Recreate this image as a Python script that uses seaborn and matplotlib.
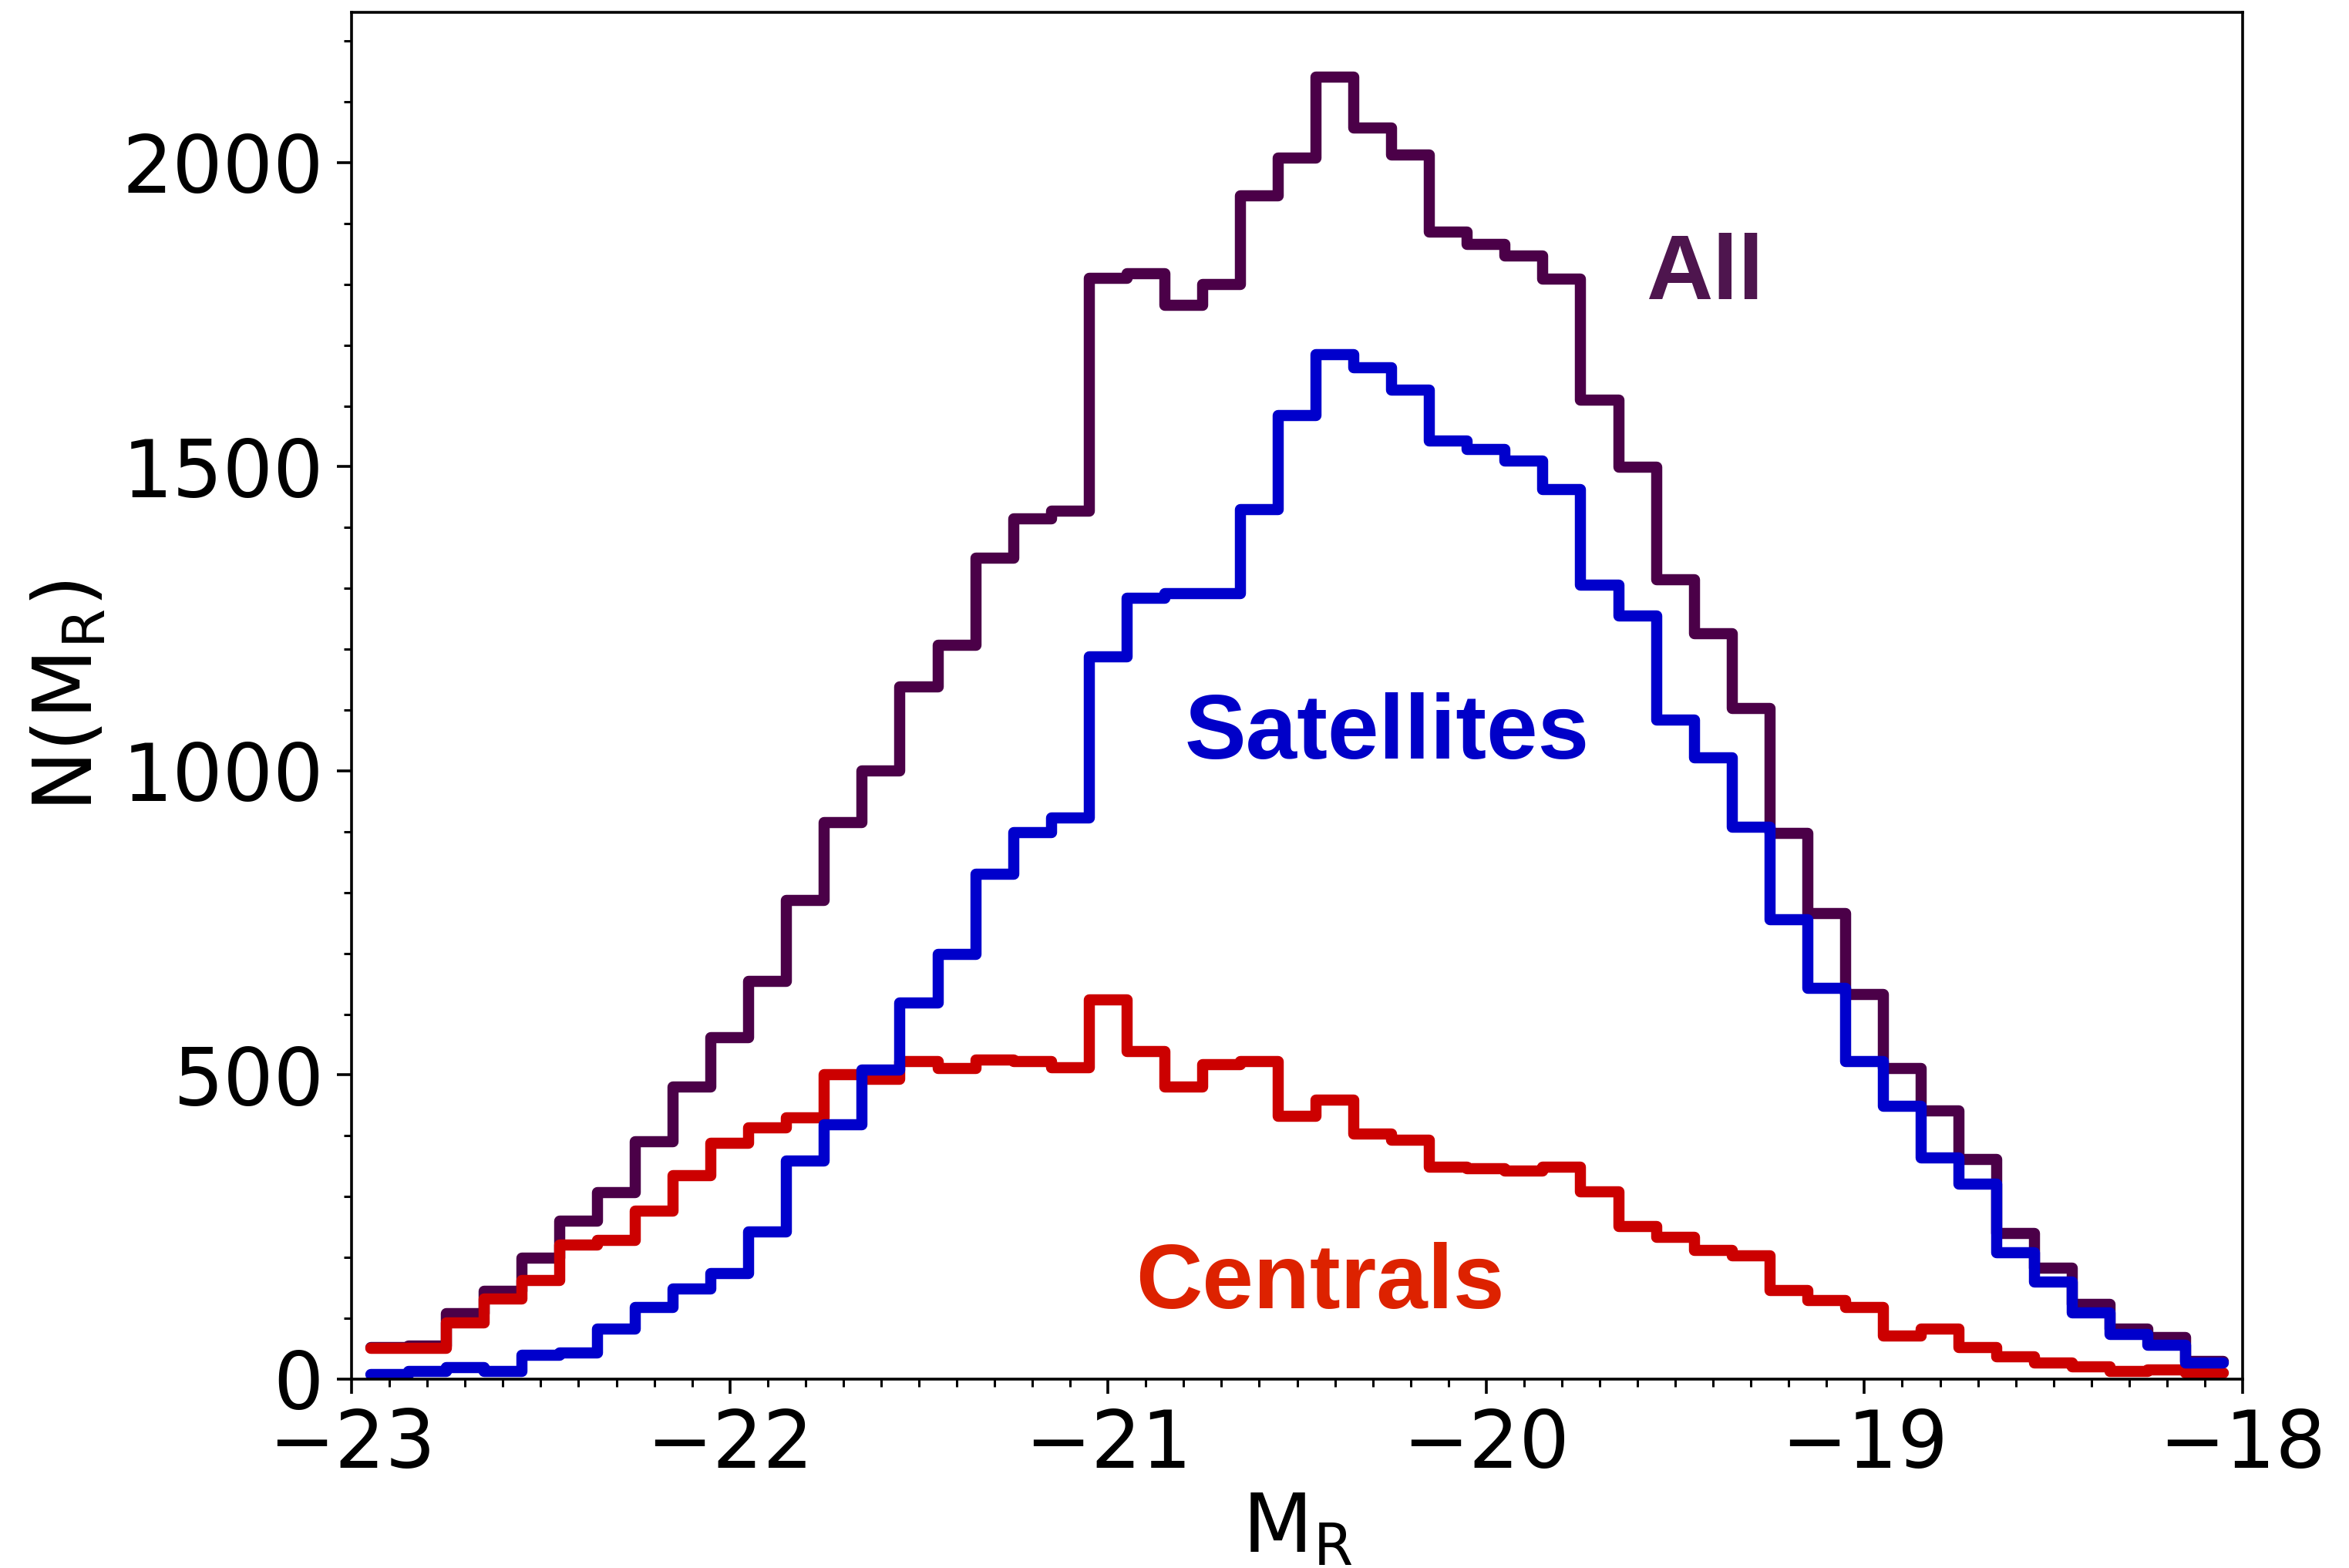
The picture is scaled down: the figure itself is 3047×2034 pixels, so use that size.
import numpy as np
import pandas as pd
import matplotlib
matplotlib.use("Agg")
import matplotlib.pyplot as plt
from matplotlib.ticker import MultipleLocator
import seaborn as sns

# ---- data (bin centres of M_R, counts per 0.1 mag bin) ----
mr_centers = [-22.9, -22.8, -22.7, -22.6, -22.5, -22.4, -22.3, -22.2, -22.1, -22.0,
              -21.9, -21.8, -21.7, -21.6, -21.5, -21.4, -21.3, -21.2, -21.1, -21.0,
              -20.9, -20.8, -20.7, -20.6, -20.5, -20.4, -20.3, -20.2, -20.1, -20.0,
              -19.9, -19.8, -19.7, -19.6, -19.5, -19.4, -19.3, -19.2, -19.1, -19.0,
              -18.9, -18.8, -18.7, -18.6, -18.5, -18.4, -18.3, -18.2, -18.1]

all_counts = [52, 54, 108, 145, 199, 260, 306, 390, 480, 561,
              654, 787, 915, 1000, 1138, 1207, 1350, 1414, 1427, 1810,
              1818, 1766, 1800, 1946, 2007, 2140, 2057, 2013, 1886, 1866,
              1847, 1808, 1609, 1499, 1314, 1225, 1103, 897, 765, 632,
              511, 441, 361, 240, 183, 123, 82, 68, 29]

satellite_counts = [8, 13, 19, 13, 39, 43, 82, 118, 148, 174,
                    242, 358, 418, 508, 618, 698, 830, 899, 923, 1188,
                    1284, 1291, 1291, 1429, 1584, 1684, 1663, 1626, 1542, 1528,
                    1510, 1462, 1305, 1255, 1083, 1022, 907, 755, 643, 522,
                    448, 364, 320, 208, 160, 109, 73, 56, 27]

central_counts = [50, 50, 92, 132, 162, 220, 228, 276, 334, 388,
                  413, 430, 500, 493, 522, 511, 525, 522, 512, 624,
                  538, 480, 517, 522, 432, 459, 403, 393, 349, 346,
                  342, 349, 308, 251, 233, 212, 203, 146, 129, 118,
                  71, 82, 52, 36, 27, 20, 13, 15, 10]

bin_edges = [round(v, 2) for v in np.linspace(-22.95, -18.05, 50)]

series_names = ["All", "Centrals", "Satellites"]
line_colors = {"All": "#4b0048", "Centrals": "#cc0000", "Satellites": "#0000cc"}
text_colors = {"All": "#4e154e", "Centrals": "#dd2200", "Satellites": "#0000c8"}

df = pd.concat([
    pd.DataFrame({"MR": mr_centers, "N": all_counts, "kind": "All"}),
    pd.DataFrame({"MR": mr_centers, "N": central_counts, "kind": "Centrals"}),
    pd.DataFrame({"MR": mr_centers, "N": satellite_counts, "kind": "Satellites"}),
], ignore_index=True)

# ---- style ----
sns.set_theme(style="ticks")
plt.rcParams["font.family"] = ["DejaVu Sans"]
plt.rcParams["mathtext.default"] = "regular"
plt.rcParams["mathtext.fontset"] = "dejavusans"
plt.rcParams["text.color"] = "black"
plt.rcParams["axes.labelcolor"] = "black"
plt.rcParams["xtick.color"] = "black"
plt.rcParams["ytick.color"] = "black"

fig = plt.figure(figsize=(15.235, 10.17), dpi=200)
ax = fig.add_axes([0.1497, 0.1205, 0.8050, 0.8716])

for name in series_names:
    sub = df[df["kind"] == name]
    sns.histplot(data=sub, x="MR", weights="N", bins=bin_edges,
                 element="step", fill=False, color=line_colors[name],
                 linewidth=5.2, ax=ax, solid_joinstyle="round",
                 solid_capstyle="round")

ax.set_xlim(-23, -18)
ax.set_ylim(0, 2247)
ax.xaxis.set_major_locator(MultipleLocator(1))
ax.xaxis.set_minor_locator(MultipleLocator(0.1))
ax.yaxis.set_major_locator(MultipleLocator(500))
ax.yaxis.set_minor_locator(MultipleLocator(100))

ax.tick_params(axis="both", which="major", direction="out", length=7,
               width=1.3, labelsize=37, pad=6, colors="black",
               labelcolor="black")
ax.tick_params(axis="both", which="minor", direction="out", length=3.5,
               width=1.1, colors="black")
ax.tick_params(top=False, right=False, which="both")
for sp in ax.spines.values():
    sp.set_linewidth(1.3)
    sp.set_color("black")
    sp.set_visible(True)

ax.set_xlabel("M$_{R}$", fontsize=38, labelpad=2.5, color="black")
ax.set_ylabel("N(M$_{R}$)", fontsize=38, labelpad=6.5, color="black")

ann_font = dict(family=["Liberation Sans", "DejaVu Sans"], weight="bold", size=43)
ax.text(-19.578, 1776, "All", color=text_colors["All"], ha="left",
        va="baseline", **ann_font)
ax.text(-20.797, 1020, "Satellites", color=text_colors["Satellites"],
        ha="left", va="baseline", **ann_font)
ax.text(-20.927, 116, "Centrals", color=text_colors["Centrals"],
        ha="left", va="baseline", **ann_font)

fig.savefig("out.png", dpi=200, facecolor="white")
